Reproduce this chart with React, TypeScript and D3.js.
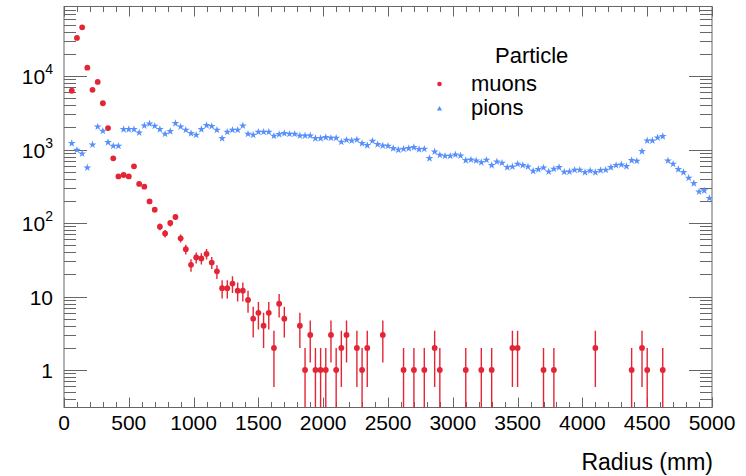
import React, { useEffect, useRef } from 'react';
import * as d3 from 'd3';

// bin centres in mm (40 mm bins, the first bin 0-40 is empty for both)
const radius = d3.range(60, 5000, 40);

const muons = [
  6300, 33000, 46000, 13000, 6500, 8300, 4260, 1960, 760, 430,
  450, 430, 590, 340, 312, 197, 152, 89, 72, 100,
  121, 62, 44, 27, 34, 33, 38, 29, 22, 13,
  13, 15, 12, 12, 9, 5, 6, 4, 6, 2,
  8, 5, 0, 0, 4, 1, 3, 1, 1, 1,
  3, 1, 2, 3, 0, 2, 1, 2, 0, 0,
  3, 0, 0, 0, 1, 0, 1, 0, 1, 0,
  2, 1, 0, 0, 0, 0, 1, 0, 0, 1,
  0, 1, 0, 0, 0, 2, 2, 0, 0, 0,
  0, 1, 0, 1, 0, 0, 0, 0, 0, 0,
  0, 2, 0, 0, 0, 0, 0, 0, 1, 0,
  2, 1, 0, 0, 1, 0, 0, 0, 0, 0,
  0, 0, 0, 0,
];

const pions = [
  1215, 985, 877, 566, 1162, 2040, 1785, 1253, 1116, 1116,
  1880, 1880, 1880, 1693, 2110, 2245, 2090, 1880, 1625, 1767,
  2272, 2040, 1843, 1660, 1575, 1880, 2133, 2070, 1843, 1420,
  1730, 1842, 1842, 2110, 1625, 1575, 1730, 1730, 1730, 1527,
  1610, 1662, 1625, 1625, 1541, 1541, 1541, 1420, 1420, 1465,
  1433, 1433, 1265, 1346, 1318, 1360, 1215, 1141, 1305, 1177,
  1127, 1116, 1038, 990, 1015, 1038, 1071, 1006, 1016, 758,
  933, 841, 816, 816, 850, 824, 713, 726, 705, 670,
  720, 610, 683, 655, 572, 584, 635, 610, 584, 509,
  537, 565, 499, 543, 572, 494, 499, 526, 526, 489,
  515, 489, 521, 526, 572, 610, 622, 591, 713, 698,
  945, 1318, 1318, 1448, 1512, 705, 635, 537, 489, 410,
  347, 267, 276, 217,
];

const xTicks = [0, 500, 1000, 1500, 2000, 2500, 3000, 3500, 4000, 4500, 5000];
const yDecades = [1, 10, 100, 1000, 10000];
const legendTitle = 'Particle';
const seriesNames = ['muons', 'pions'];

const RED = '#e42536';
const BLUE = '#5790fc';
const FONT = '"Liberation Sans", Arial, sans-serif';

export default function App() {
  const ref = useRef<SVGSVGElement>(null);

  useEffect(() => {
    document.body.style.margin = '0';
    const svg = d3.select(ref.current);
    svg.selectAll('*').remove();

    const left = 64;
    const right = 712;
    const top = 6.5;
    const bottom = 407.5;

    const x = d3.scaleLinear().domain([0, 5000]).range([left, right]);
    const y = d3.scaleLog().domain([0.309, 88300]).range([bottom, top]);

    svg.append('defs').append('clipPath')
      .attr('id', 'plot-clip')
      .append('rect')
      .attr('x', left)
      .attr('y', top)
      .attr('width', right - left)
      .attr('height', bottom - top);

    const axisCol = '#666';
    const axes = svg.append('g').attr('stroke', axisCol).attr('stroke-width', 1);

    // x ticks, bottom and top
    const xMinor = d3.range(0, 5001, 100);
    xMinor.forEach((v) => {
      const len = v % 500 === 0 ? 10 : 5.5;
      const px = Math.round(x(v)) + 0.5;
      axes.append('line').attr('x1', px).attr('x2', px).attr('y1', bottom).attr('y2', bottom - len);
      axes.append('line').attr('x1', px).attr('x2', px).attr('y1', top).attr('y2', top + len);
    });

    // y log ticks, left and right
    const [y0, y1] = y.domain();
    for (let e = -1; e <= 4; e++) {
      for (let m = 1; m <= 9; m++) {
        const v = m * Math.pow(10, e);
        if (v < y0 || v > y1) continue;
        const len = m === 1 ? 23 : 12;
        const py = Math.round(y(v)) + 0.5;
        axes.append('line').attr('x1', left).attr('x2', left + len).attr('y1', py).attr('y2', py);
        axes.append('line').attr('x1', right).attr('x2', right - len).attr('y1', py).attr('y2', py);
      }
    }

    // frame
    svg.append('rect')
      .attr('x', left)
      .attr('y', top)
      .attr('width', right - left)
      .attr('height', bottom - top)
      .attr('fill', 'none')
      .attr('stroke', axisCol)
      .attr('stroke-width', 1);

    // x tick labels
    svg.append('g')
      .selectAll('text')
      .data(xTicks)
      .enter()
      .append('text')
      .attr('x', (d) => x(d))
      .attr('y', 430)
      .attr('text-anchor', 'middle')
      .attr('font-family', FONT)
      .attr('font-size', 21)
      .attr('fill', '#000')
      .text((d) => d);

    // y tick labels (10^n as superscript)
    const yl = svg.append('g')
      .attr('font-family', FONT)
      .attr('fill', '#000');
    yDecades.forEach((v) => {
      const exp = Math.round(Math.log10(v));
      const t = yl.append('text')
        .attr('x', 53)
        .attr('y', y(v) + 8)
        .attr('text-anchor', 'end')
        .attr('font-size', 21);
      if (exp <= 1) {
        t.text(v);
      } else {
        t.append('tspan').text('10');
        t.append('tspan').attr('font-size', 14).attr('dy', -10).text(exp);
      }
    });

    // axis title
    svg.append('text')
      .attr('x', 713)
      .attr('y', 470)
      .attr('text-anchor', 'end')
      .attr('font-family', FONT)
      .attr('font-size', 23)
      .attr('fill', '#000')
      .text('Radius (mm)');

    const plot = svg.append('g').attr('clip-path', 'url(#plot-clip)');

    // muons with sqrt(N) error bars
    const mu = radius.map((r, i) => ({ r, n: muons[i] })).filter((d) => d.n > 0);
    plot.append('g')
      .selectAll('line')
      .data(mu)
      .enter()
      .append('line')
      .attr('x1', (d) => x(d.r))
      .attr('x2', (d) => x(d.r))
      .attr('y1', (d) => y(d.n + Math.sqrt(d.n)))
      .attr('y2', (d) => (d.n - Math.sqrt(d.n) > y0 ? y(d.n - Math.sqrt(d.n)) : bottom + 2))
      .attr('stroke', RED)
      .attr('stroke-width', 1.4);
    plot.append('g')
      .selectAll('circle')
      .data(mu)
      .enter()
      .append('circle')
      .attr('cx', (d) => x(d.r))
      .attr('cy', (d) => y(d.n))
      .attr('r', 2.9)
      .attr('fill', RED);

    // pions as stars
    const star = d3.symbol().type(d3.symbolStar).size(19);
    plot.append('g')
      .selectAll('path')
      .data(radius.map((r, i) => ({ r, n: pions[i] })))
      .enter()
      .append('path')
      .attr('transform', (d) => `translate(${x(d.r)},${y(d.n)})`)
      .attr('d', star)
      .attr('fill', BLUE);

    // legend
    const lg = svg.append('g').attr('font-family', FONT).attr('fill', '#000');
    lg.append('text')
      .attr('x', 495)
      .attr('y', 63)
      .attr('font-size', 22)
      .text(legendTitle);
    seriesNames.forEach((name, i) => {
      lg.append('text')
        .attr('x', 471)
        .attr('y', 91 + i * 24)
        .attr('font-size', 22)
        .text(name);
    });
    lg.append('circle')
      .attr('cx', 439.5)
      .attr('cy', 84)
      .attr('r', 2.3)
      .attr('fill', RED);
    lg.append('path')
      .attr('transform', 'translate(439.5,109)')
      .attr('d', d3.symbol().type(d3.symbolTriangle).size(12)())
      .attr('fill', BLUE);
  }, []);

  return <svg ref={ref} width={746} height={476} style={{ display: 'block' }} />;
}
